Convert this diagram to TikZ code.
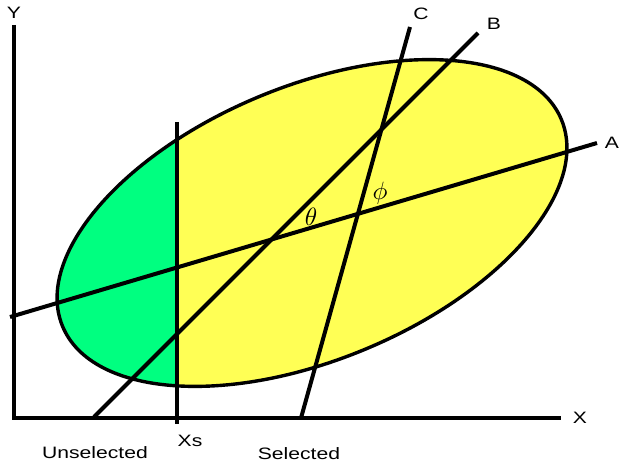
\documentclass[tikz,border=0pt]{standalone}
\usepackage{fontspec}
\setmainfont{Liberation Sans}
\definecolor{selgreen}{RGB}{0,255,128}
\definecolor{selyellow}{RGB}{255,255,85}
\begin{document}
\begin{tikzpicture}[x=1pt,y=1pt,
  axis/.style={line width=4.4pt,line join=miter},
  ln/.style={line width=4pt},
  lbl/.style={inner sep=0pt,font=\fontsize{16.5}{16.5}\selectfont},
  greek/.style={inner sep=0pt}]
\useasboundingbox (0,0) rectangle (620,463);
% ellipse fill
\fill[selyellow] (312,240) ellipse [x radius=270,y radius=137,rotate=22.5];
\begin{scope}
  \clip (0,0) rectangle (177,463);
  \fill[selgreen] (312,240) ellipse [x radius=270,y radius=137,rotate=22.5];
\end{scope}
\draw[line width=3.4pt] (312,240) ellipse [x radius=270,y radius=137,rotate=22.5];
% coordinates
\coordinate (ytop) at (14,438);
\coordinate (orig) at (14,45);
\coordinate (xend) at (561,45);
\coordinate (xs1) at (177,341);
\coordinate (xs0) at (177,39);
\coordinate (a0) at (10,146);
\coordinate (a1) at (597,320);
\coordinate (b0) at (94,46);
\coordinate (b1) at (478,430);
\coordinate (c0) at (301,45);
\coordinate (c1) at (410,436);
% lines
\draw[axis] (ytop) -- (orig) -- (xend);
\draw[axis] (xs1) -- (xs0);
\draw[ln] (a0) -- (a1);
\draw[ln] (b0) -- (b1);
\draw[ln] (c0) -- (c1);
% labels
\node[lbl] (ly) at (14,450) {\scalebox{1.28}[1]{Y}};
\node[lbl] (lx) at (580,45) {\scalebox{1.28}[1]{X}};
\node[lbl] (la) at (612,320) {\scalebox{1.28}[1]{A}};
\node[lbl] (lb) at (494,439) {\scalebox{1.28}[1]{B}};
\node[lbl] (lc) at (421,449) {\scalebox{1.28}[1]{C}};
\node[lbl] (lxs) at (190,22) {\scalebox{1.28}[1]{Xs}};
\node[lbl] (lun) at (95,10) {\scalebox{1.28}[1]{Unselected}};
\node[lbl] (lsel) at (299,9) {\scalebox{1.28}[1]{Selected}};
\node[greek] (th) at (311,246) {\scalebox{2.5}{$\theta$}};
\node[greek] (ph) at (380,270) {\scalebox{2.5}{$\phi$}};
\end{tikzpicture}
\end{document}
